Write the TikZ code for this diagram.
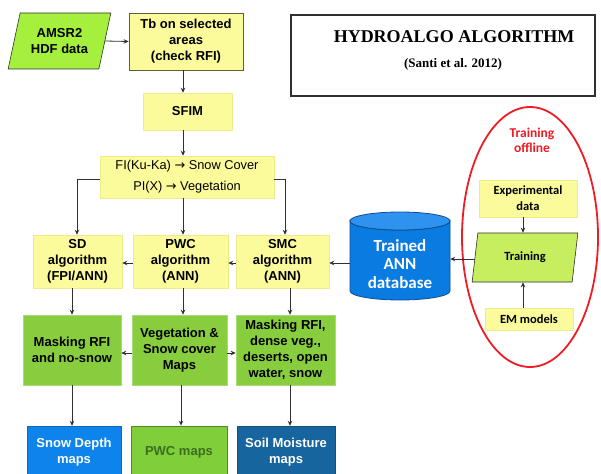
\documentclass[tikz,border=0pt]{standalone}
\usepackage{fontspec}
\setmainfont{Liberation Sans}
\newfontfamily\serifb{Liberation Serif}
\newfontfamily\carl{Carlito}
\newfontfamily\djv{DejaVu Sans}
\usetikzlibrary{arrows.meta,calc,shapes.geometric}
\definecolor{yel}{HTML}{FBFB9C}
\definecolor{ybd}{HTML}{5E5E3A}
\definecolor{yfaint}{HTML}{ECEC8C}
\definecolor{grn}{HTML}{88CD3E}
\definecolor{grnd}{HTML}{A9DA78}
\definecolor{lime}{HTML}{A4F03C}
\definecolor{limet}{HTML}{C6EE5E}
\definecolor{sdblue}{HTML}{0D84EC}
\definecolor{smblue}{HTML}{17659F}
\definecolor{pwcg}{HTML}{80CE3A}
\definecolor{pwct}{HTML}{3B6E1E}
\definecolor{cylb}{HTML}{0A7BE0}
\definecolor{cylt}{HTML}{2E92EE}
\definecolor{cyld}{HTML}{0D4E94}
\definecolor{arrc}{HTML}{303030}
\definecolor{offred}{HTML}{EE1C24}
\pgfdeclarelayer{bg}
\pgfsetlayers{bg,main}
\begin{document}
\begin{tikzpicture}[x=1pt,y=-1pt,
  box/.style={rectangle, inner sep=0pt, align=center, font=\bfseries\fontsize{13}{16}\selectfont},
  ybox/.style={box, fill=yel, draw=yfaint, line width=0.5pt},
  gbox/.style={box, fill=grn, draw=grnd, line width=0.6pt},
  cbox/.style={box, fill=yel, draw=yfaint, font=\carl\bfseries\fontsize{12.5}{16}\selectfont},
  para/.style={trapezium, trapezium stretches=true, inner sep=0pt, align=center, draw=arrc, line width=0.6pt},
  arr/.style={draw=arrc, line width=0.8pt, -{Stealth[length=5pt,width=4.5pt]}},
  ]
\clip (0,0) rectangle (601,473);
\begin{pgfonlayer}{bg}
\fill[white] (0,0) rectangle (601,473);
\end{pgfonlayer}

% title
\node[draw=arrc, line width=1.3pt, minimum width=304pt, minimum height=81pt, inner sep=0pt] (title) at (443,55.5) {};
\node[font=\serifb\bfseries\fontsize{18}{20}\selectfont] (tt) at (454,37) {HYDROALGO ALGORITHM};
\node[font=\serifb\bfseries\fontsize{13}{15}\selectfont] (st) at (453,64) {(Santi et al. 2012)};

% top chain
\node[para, fill=lime, trapezium left angle=71, trapezium right angle=109, minimum width=103pt, minimum height=56pt, font=\bfseries\fontsize{13}{16}\selectfont] (amsr) at (59.5,41) {AMSR2\\HDF data};
\node[ybox, draw=ybd, line width=0.8pt, minimum width=114pt, minimum height=57pt] (tb) at (186,41.5) {Tb on selected\\areas\\(check RFI)};
\node[ybox, minimum width=89pt, minimum height=37pt] (sfim) at (187.5,111.5) {SFIM};
\node[ybox, minimum width=174pt, minimum height=42pt, font=\fontsize{12.8}{21}\selectfont] (fi) at (187,177) {FI(Ku-Ka) {\djv →} Snow Cover\\PI(X) {\djv →} Vegetation};

% algorithms
\node[ybox, minimum width=89pt, minimum height=53pt] (sd) at (77.5,261.5) {SD\\algorithm\\(FPI/ANN)};
\node[ybox, minimum width=95pt, minimum height=53pt] (pwc) at (180.5,261.5) {PWC\\algorithm\\(ANN)};
\node[ybox, minimum width=93pt, minimum height=53pt] (smc) at (282.5,261.5) {SMC\\algorithm\\(ANN)};

% green masks
\node[gbox, minimum width=98pt, minimum height=70pt] (mrfi) at (72,350) {Masking RFI\\and no-snow};
\node[gbox, minimum width=95pt, minimum height=70pt] (veg) at (179.5,350) {Vegetation \&\\Snow cover\\Maps};
\node[gbox, minimum width=99pt, minimum height=70pt] (mden) at (285.5,350) {Masking RFI,\\dense veg.,\\deserts, open\\water, snow};

% outputs
\node[box, fill=sdblue, draw=sdblue!80!black, text=white, minimum width=94pt, minimum height=52pt] (sdm) at (74,452) {Snow Depth\\maps};
\node[box, fill=pwcg, draw=pwct!70!pwcg, line width=0.8pt, text=pwct, minimum width=96pt, minimum height=52pt] (pwcm) at (179,452) {PWC maps};
\node[box, fill=smblue, draw=smblue!80!black, text=white, minimum width=98pt, minimum height=52pt] (smm) at (286,452) {Soil Moisture\\maps};

% database cylinder
\node[inner sep=0pt, minimum width=100pt, minimum height=88pt, align=center, text=white, font=\carl\bfseries\fontsize{17}{18.5}\selectfont] (db) at (400,264) {Trained\\ANN\\database};
\begin{pgfonlayer}{bg}
\filldraw[fill=cylb, draw=cyld, line width=0.8pt] (350,221) -- (350,291) arc[start angle=180, end angle=0, x radius=50, y radius=9] -- (450,221) arc[start angle=0, end angle=180, x radius=50, y radius=9] -- cycle;
\filldraw[fill=cylt, draw=cyld, line width=0.8pt] (400,221) ellipse[x radius=50, y radius=9];
\end{pgfonlayer}

% training offline
\draw[offred, line width=1.8pt] (530,237) ellipse[x radius=68, y radius=130];
\node[text=offred, align=center, font=\carl\bfseries\fontsize{13.5}{15}\selectfont] (toff) at (532,140) {Training\\offline};
\node[cbox, minimum width=98pt, minimum height=37pt] (exp) at (528,198.5) {Experimental\\data};
\node[para, fill=limet, trapezium left angle=77, trapezium right angle=103, minimum width=106pt, minimum height=49pt, font=\carl\bfseries\fontsize{12.5}{15}\selectfont] (train) at (525,257.5) {Training};
\node[cbox, minimum width=88pt, minimum height=22pt] (em) at (529,319) {EM models};

% connectors
\coordinate (xa) at (183,0);
\coordinate (xm) at (181,0);
\coordinate (xl) at (72,0);
\coordinate (xl2) at (77,0);
\coordinate (xr) at (285,0);
\coordinate (xr2) at (290,0);
\coordinate (xt) at (523,0);
\coordinate (fy) at (0,179);
\coordinate (ay) at (0,263);
\coordinate (gy) at (0,353);
\coordinate (ty) at (0,259);

\draw[arr] (amsr.east) -- (tb.west);
\draw[arr] (tb.south -| xa) -- (sfim.north -| xa);
\draw[arr] (sfim.south -| xa) -- (fi.north -| xa);
\draw[arr] (fi.south -| xa) -- (pwc.north -| xa);
\draw[arr] (fi.west |- fy) -| (sd.north -| xl2);
\draw[arr] (fi.east |- fy) -| (smc.north -| xr);
\draw[arr] (pwc.west |- ay) -- (sd.east |- ay);
\draw[arr] (smc.west |- ay) -- (pwc.east |- ay);
\draw[arr] (db.west |- ay) -- (smc.east |- ay);
\draw[arr] (train.west |- ty) -- (db.east |- ty);
\draw[arr] (exp.south -| xt) -- (train.north -| xt);
\draw[arr] (em.north -| xt) -- (train.south -| xt);

\draw[arr] (sd.south -| xl) -- (mrfi.north -| xl);
\draw[arr] (pwc.south -| xa) -- (veg.north -| xa);
\draw[arr] (smc.south -| xr2) -- (mden.north -| xr2);
\draw[arr] (veg.west |- gy) -- (mrfi.east |- gy);
\draw[arr] (veg.east |- gy) -- (mden.west |- gy);

\draw[arr] (mrfi.south -| xl) -- (sdm.north -| xl);
\draw[arr] (veg.south -| xm) -- (pwcm.north -| xm);
\draw[arr] (mden.south -| xr2) -- (smm.north -| xr2);
\end{tikzpicture}
\end{document}
